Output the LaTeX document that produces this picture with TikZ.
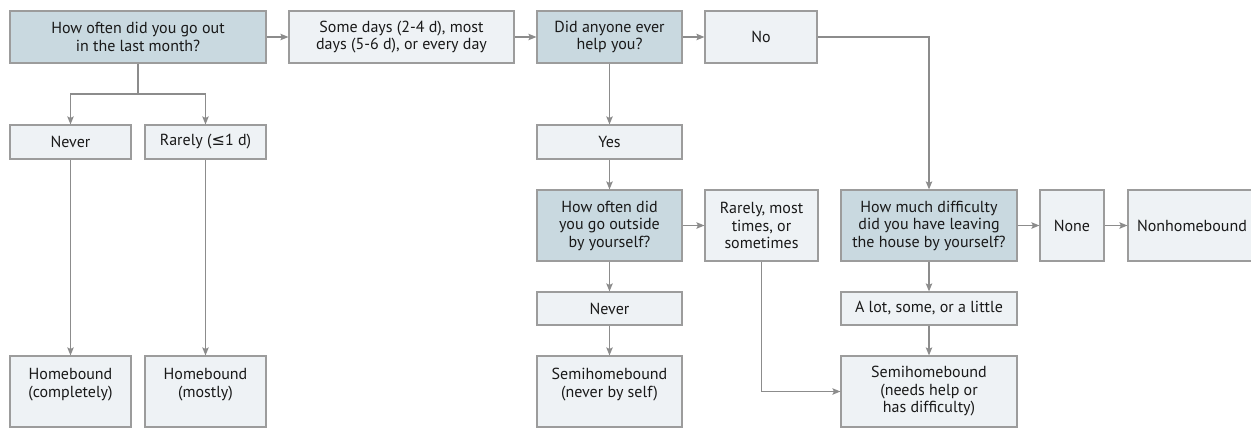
\documentclass[tikz,border=0pt]{standalone}
\usepackage{fontspec}
\setmainfont{PT Sans}
\newfontfamily\symfont{DejaVu Sans}
\usepackage{xcolor}
\usetikzlibrary{arrows.meta}
\usetikzlibrary{positioning}
\definecolor{qfill}{HTML}{C9D9E0}
\definecolor{afill}{HTML}{EEF2F5}
\definecolor{boxline}{HTML}{9C9C9C}
\definecolor{linkgray}{HTML}{8C8C8C}
\tikzstyle{question} = [rectangle, draw=boxline, fill=qfill, line width=1.2pt, inner sep=0pt, align=center, text=black!90, font=\fontsize{16}{17.5}\selectfont]
\tikzstyle{answer} = [question, fill=afill]
\tikzstyle{arrow} = [line width=1.2pt, draw=linkgray, -{Stealth[length=8pt, width=6.5pt, inset=1.5pt]}]
\tikzstyle{link} = [line width=1.2pt, draw=linkgray]

\begin{document}
\begin{tikzpicture}[x = 1pt, y = -1pt]
    \useasboundingbox (0,0) rectangle (1251,428);
    \node (q_1) [question, minimum width = 256pt, minimum height = 52pt] at (138,37) {How often did you go out\\in the last month?};
    \node (a_1) [answer, minimum width = 225pt, minimum height = 52pt] at (401.5,37) {Some days (2-4 d), most\\days (5-6 d), or every day};
    \node (q_2) [question, minimum width = 145pt, minimum height = 52pt] at (609.5,37) {Did anyone ever\\help you?};
    \node (a_2) [answer, minimum width = 112pt, minimum height = 52pt] at (761,37) {No};
    \node (a_3) [answer, minimum width = 121pt, minimum height = 34pt] at (70.5,142) {Never};
    \node (a_4) [answer, minimum width = 121pt, minimum height = 34pt] at (205.5,142) {Rarely ({\symfont ≤}1 d)};
    \node (r_1) [answer, minimum width = 121pt, minimum height = 71pt] at (70.5,391.5) {Homebound\\(completely)\\\mbox{}};
    \node (r_2) [answer, minimum width = 121pt, minimum height = 71pt] at (205.5,391.5) {Homebound\\(mostly)\\\mbox{}};
    \node (a_7) [answer, minimum width = 145pt, minimum height = 34pt, below of = q_2, node distance = 105pt] {Yes};
    \node (q_3) [question, minimum width = 145pt, minimum height = 71pt, below of = a_7, node distance = 83.5pt] {How often did\\you go outside\\by yourself?};
    \node (a_8) [answer, minimum width = 145pt, minimum height = 33pt, below of = q_3, node distance = 83pt] {Never};
    \node (r_4) [answer, minimum width = 145pt, minimum height = 71pt, below of = a_8, node distance = 83pt] {Semihomebound\\(never by self)\\\mbox{}};
    \node (a_5) [answer, minimum width = 113pt, minimum height = 71pt, right of = q_3, node distance = 152pt] {Rarely, most\\times, or\\sometimes};
    \node (q_4) [question, minimum width = 176pt, minimum height = 71pt, right of = a_5, node distance = 167.5pt] {How much difficulty\\did you have leaving\\the house by yourself?};
    \node (a_6) [answer, minimum width = 64pt, minimum height = 71pt, right of = q_4, node distance = 143pt] {None};
    \node (r_6) [answer, minimum width = 128pt, minimum height = 71pt, right of = a_6, node distance = 120pt] {Nonhomebound};
    \node (a_9) [answer, minimum width = 176pt, minimum height = 33pt, below of = q_4, node distance = 83pt] {A lot, some, or a little};
    \node (r_5) [answer, minimum width = 176pt, minimum height = 71pt, below of = a_9, node distance = 83pt] {Semihomebound\\(needs help or\\has difficulty)};
    \coordinate (split) at (138,94);
    \draw [arrow] (q_1) -- (a_1);
    \draw [arrow] (a_1) -- (q_2);
    \draw [arrow] (q_2) -- (a_2);
    \draw [arrow] (a_2) -| (q_4);
    \draw [link] (q_1) -- (split);
    \draw [arrow] (split) -| (a_3);
    \draw [arrow] (split) -| (a_4);
    \draw [arrow] (a_3) -- (r_1);
    \draw [arrow] (a_4) -- (r_2);
    \draw [arrow] (q_2) -- (a_7);
    \draw [arrow] (a_7) -- (q_3);
    \draw [arrow] (q_3) -- (a_5);
    \draw [arrow] (q_3) -- (a_8);
    \draw [arrow] (a_8) -- (r_4);
    \draw [arrow] (a_5) |- (r_5);
    \draw [arrow] (q_4) -- (a_6);
    \draw [arrow] (a_6) -- (r_6);
    \draw [arrow] (q_4) -- (a_9);
    \draw [arrow] (a_9) -- (r_5);
\end{tikzpicture}
\end{document}
